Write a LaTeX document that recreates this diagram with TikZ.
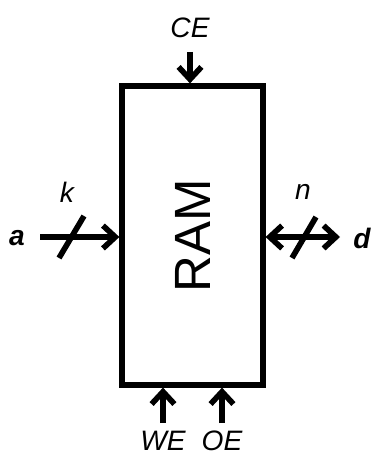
\documentclass[tikz,border=0pt]{standalone}
\usepackage{fontspec}
\setmainfont{Liberation Sans}
\usetikzlibrary{arrows.meta}

\tikzset{
  tip/.tip={Straight Barb[length=7pt,width=13pt,line width=3.2pt]},
  sig/.style={line width=3.2pt,-tip},
  lab/.style={font=\fontsize{16}{18}\selectfont\itshape},
  blab/.style={font=\fontsize{16}{18}\selectfont\bfseries\itshape},
}

\begin{document}
\begin{tikzpicture}[x=0.02cm,y=-0.02cm]
\useasboundingbox (0,0) rectangle (373,462);
\node[draw,line width=3pt,minimum width=2.82cm,minimum height=5.98cm,inner sep=0pt] (ram) at (192.5,235.5) {};
\node[rotate=90,font=\fontsize{29}{31}\selectfont] (ramtxt) at (ram.center) {RAM};
% control inputs
\node[lab] (ce) at (190,28) {CE};
\coordinate (ceend) at (190,52);
\draw[sig] (ceend) -- (ram.north -| ceend);
\foreach \x/\lab in {163/WE,222/OE}{
  \node[lab] (\lab) at (\x,441) {\lab};
  \coordinate (\lab end) at (\x,423);
  \draw[sig] (\lab end) -- (ram.south -| \lab end);
}
% address and data
\node[blab] (a) at (17,238) {a};
\node[lab] (k) at (67,192) {k};
\coordinate (ain) at (40,237);
\draw[sig] (ain) -- (ram.west |- ain);
\draw[line width=3.2pt] (59,258) -- (84,216);
\node[blab] (d) at (362,238) {d};
\node[lab] (n) at (303,192) {n};
\coordinate (dout) at (340,237);
\draw[sig,tip-tip] (ram.east |- dout) -- (dout);
\draw[line width=3.2pt] (292,258) -- (316,217);
\end{tikzpicture}
\end{document}
